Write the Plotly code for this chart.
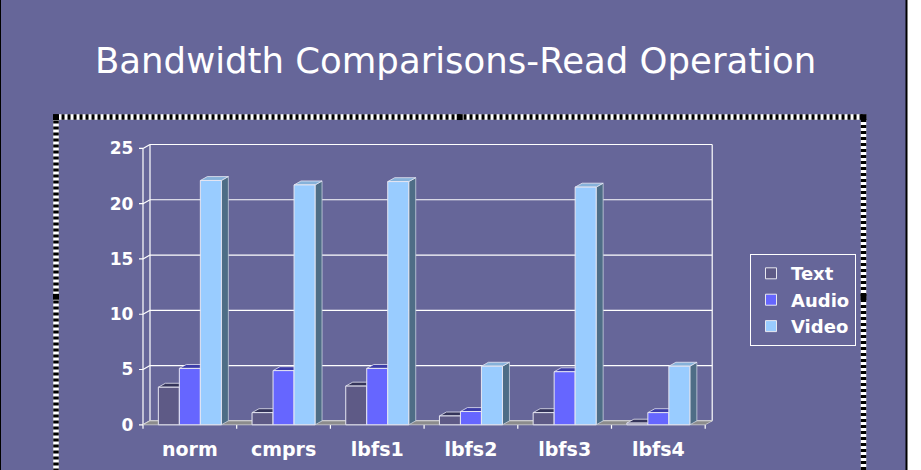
import plotly.graph_objects as go

# ---------------- data ----------------
categories = ["norm", "cmprs", "lbfs1", "lbfs2", "lbfs3", "lbfs4"]
text_vals = [3.4, 1.1, 3.5, 0.8, 1.1, 0.15]
audio_vals = [5.1, 4.9, 5.1, 1.2, 4.8, 1.1]
video_vals = [22.1, 21.7, 22.0, 5.3, 21.5, 5.3]
series_names = ["Text", "Audio", "Video"]
y_ticks = [0, 5, 10, 15, 20, 25]
title_text = "Bandwidth Comparisons-Read Operation"

# ---------------- styling / geometry ----------------
W, H = 921, 470
BG = "#666699"
FONT = "DejaVu Sans"
front_colors = ["#5E5A86", "#6666FF", "#99CCFF"]
top_colors = ["#34345A", "#3C3CA8", "#86B2DA"]
side_colors = ["#40405F", "#4848B8", "#4E6D86"]
edge = "#E6E6F2"

PX_X = 93.7    # pixels per category slot
PX_Y = 11.27   # pixels per unit of value
X0_PX = 189.85  # pixel of category 0 (front)
Y0_PX = 429.0   # pixel of value 0 (front)
xr = [-0.56, 5.64]
yr = [-0.45, 25.5]
xdom = [(X0_PX + xr[0] * PX_X) / W, (X0_PX + xr[1] * PX_X) / W]
ydom = [(H - (Y0_PX - yr[0] * PX_Y)) / H, (H - (Y0_PX - yr[1] * PX_Y)) / H]

DX = 7 / PX_X      # depth offset (x)
DY = 4 / PX_Y      # depth offset (y)
BW = 21 / PX_X     # bar width
XL, XR = -0.5, 5.5
YTOP = y_ticks[-1]


def poly_trace(polys, fill, line, width=1.0):
    xs, ys = [], []
    for p in polys:
        for a, b in p:
            xs.append(a)
            ys.append(b)
        xs.append(p[0][0])
        ys.append(p[0][1])
        xs.append(None)
        ys.append(None)
    return go.Scatter(x=xs, y=ys, mode="lines", fill="toself", fillcolor=fill,
                      line=dict(color=line, width=width), hoverinfo="skip",
                      showlegend=False)


def line_trace(segs, color, width=1.0):
    xs, ys = [], []
    for (a, b), (c, d) in segs:
        xs += [a, c, None]
        ys += [b, d, None]
    return go.Scatter(x=xs, y=ys, mode="lines", line=dict(color=color, width=width),
                      hoverinfo="skip", showlegend=False)


fig = go.Figure()

# back wall, front axis, connectors, ticks
segs = []
for t in y_ticks:
    segs.append(((XL + DX, t + DY), (XR + DX, t + DY)))       # back gridlines
    segs.append(((XL, t), (XL + DX, t + DY)))                 # connectors
    segs.append(((XL - 4 / PX_X, t), (XL, t)))                # y tick marks
segs.append(((XL + DX, DY), (XL + DX, YTOP + DY)))           # back wall left
segs.append(((XR + DX, DY), (XR + DX, YTOP + DY)))           # back wall right
segs.append(((XL, 0), (XL, YTOP)))                           # front axis
for k in range(len(categories) + 1):
    segs.append(((XL + k, 0), (XL + k, -4 / PX_Y)))          # category ticks
fig.add_trace(line_trace(segs, "#FFFFFF", 1.2))

# floor
fig.add_trace(poly_trace([[(XL, 0), (XR, 0), (XR + DX, DY), (XL + DX, DY)]],
                         "#8C8C8C", "#CFCFCF", 0.8))

# 3D bars
all_vals = [text_vals, audio_vals, video_vals]
for k, vals in enumerate(all_vals):
    sides, tops, fronts = [], [], []
    for i, v in enumerate(vals):
        x0 = i + (k - 1.5) * BW
        x1 = x0 + BW
        sides.append([(x1, 0), (x1 + DX, DY), (x1 + DX, v + DY), (x1, v)])
        tops.append([(x0, v), (x1, v), (x1 + DX, v + DY), (x0 + DX, v + DY)])
        fronts.append([(x0, 0), (x1, 0), (x1, v), (x0, v)])
    fig.add_trace(poly_trace(sides, side_colors[k], "#C8D0E0", 0.8))
    fig.add_trace(poly_trace(tops, top_colors[k], edge, 0.8))
    fig.add_trace(poly_trace(fronts, front_colors[k], edge, 1.0))

# legend entries
for k, name in enumerate(series_names):
    fig.add_trace(go.Scatter(x=[None], y=[None], mode="markers", name=name,
                             marker=dict(symbol="square", size=11, color=front_colors[k],
                                         line=dict(color="#E8E8F0", width=1))))

# ---------------- layout ----------------
def px(x):
    return x / W


def py(y):
    return 1 - y / H


shapes = []
# slide border / right strip
shapes.append(dict(type="rect", xref="paper", yref="paper", x0=px(907), x1=1.02, y0=-0.05, y1=1.05,
                   fillcolor="white", line=dict(width=0)))
shapes.append(dict(type="line", xref="paper", yref="paper", x0=px(906.5), x1=px(906.5), y0=-0.05, y1=1.05,
                   line=dict(color="black", width=2)))
shapes.append(dict(type="line", xref="paper", yref="paper", x0=px(0.5), x1=px(0.5), y0=-0.05, y1=1.05,
                   line=dict(color="black", width=1)))
# hatched selection frame
fx0, fx1, fy0, fy1 = 56, 863.5, 115.3, 490
shapes.append(dict(type="rect", xref="paper", yref="paper", x0=px(fx0), x1=px(fx1), y0=py(fy1), y1=py(fy0),
                   line=dict(color="white", width=5.5)))
shapes.append(dict(type="rect", xref="paper", yref="paper", x0=px(fx0), x1=px(fx1), y0=py(fy1), y1=py(fy0),
                   line=dict(color="black", width=5.5, dash="3px,3px")))
for hx, hy in [(fx0, fy0), ((fx0 + fx1) / 2, fy0), (fx1, fy0), (fx0, 298.5), (fx1, 298.5)]:
    shapes.append(dict(type="rect", xref="paper", yref="paper", x0=px(hx - 3), x1=px(hx + 3),
                       y0=py(hy + 3), y1=py(hy - 3), fillcolor="black", line=dict(width=0)))

fig.update_layout(
    width=W, height=H,
    margin=dict(l=0, r=0, t=0, b=0),
    paper_bgcolor=BG, plot_bgcolor=BG,
    showlegend=True,
    legend=dict(x=px(750), y=py(255), xanchor="left", yanchor="top",
                bgcolor=BG, bordercolor="white", borderwidth=1,
                font=dict(family=FONT, size=18, color="white", weight="bold"),
                itemclick=False, itemdoubleclick=False),
    xaxis=dict(domain=xdom, range=xr, showgrid=False, zeroline=False, showline=False,
               tickmode="array", tickvals=list(range(len(categories))), ticktext=categories,
               ticks="", ticklabelstandoff=6,
               tickfont=dict(family=FONT, size=19, color="white", weight="bold"),
               fixedrange=True),
    yaxis=dict(domain=ydom, range=yr, showgrid=False, zeroline=False, showline=False,
               tickmode="array", tickvals=y_ticks, ticks="", ticklabelstandoff=3,
               tickfont=dict(family=FONT, size=17, color="white", weight="bold"),
               fixedrange=True),
    shapes=shapes,
    annotations=[dict(text=title_text, xref="paper", yref="paper", x=px(455.5), y=py(57.5),
                      xanchor="center", yanchor="middle", showarrow=False,
                      font=dict(family=FONT, size=35.5, color="white"))],
)

fig.write_html("out.html")
